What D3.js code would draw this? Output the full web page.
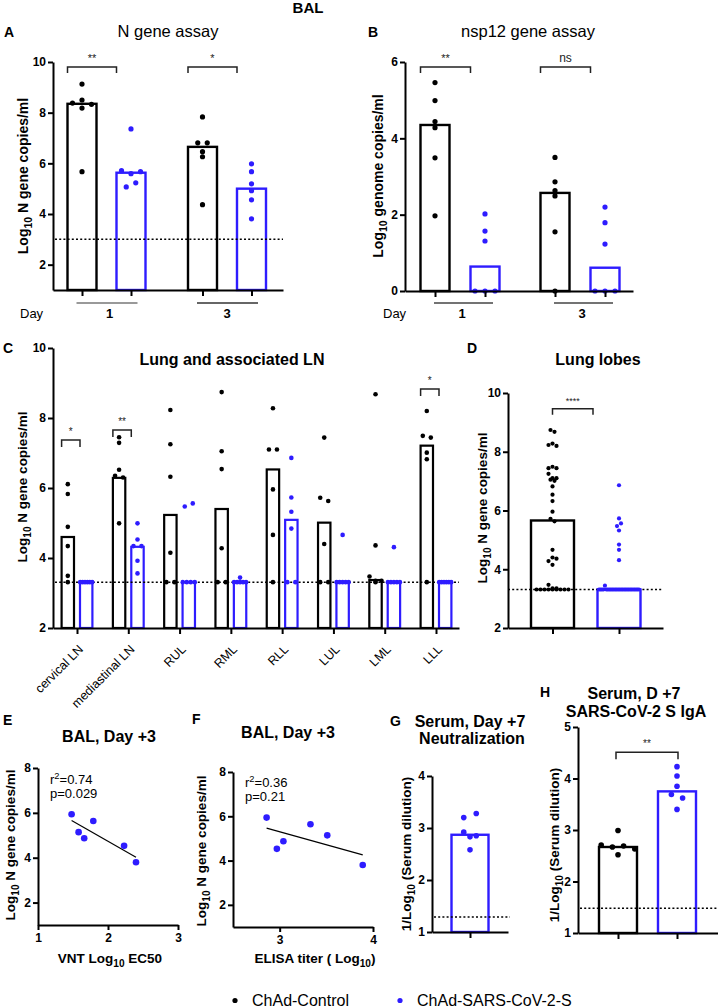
<!DOCTYPE html>
<html><head><meta charset="utf-8">
<script src="https://cdn.jsdelivr.net/npm/d3@7"></script>
<style>
body{margin:0;background:#fff;}
svg{display:block;}
</style></head><body>
<svg id="chart" width="718" height="1008"></svg>
<script>
// ================= DATA =================
const groupNames = ["ChAd-Control", "ChAd-SARS-CoV-2-S"];
const days = ["1", "3"];

// A: BAL, N gene assay (Log10 N gene copies/ml), [day1, day3]
const nGeneControl = [[9.13, 8.38, 8.5, 8.33, 8.18, 5.67], [7.83, 6.81, 6.81, 6.46, 6.26, 4.37]];
const nGeneVaccine = [[7.36, 5.71, 5.59, 5.67, 5.07, 5.23], [5.98, 5.67, 5.19, 4.92, 4.56, 3.81]];
const nGeneMedianControl = [8.35, 6.65];
const nGeneMedianVaccine = [5.63, 5.0];
const nGeneSig = ["**", "*"];
const nGeneLOD = 3.0;

// B: BAL, nsp12 gene assay (Log10 genome copies/ml)
const nspControl = [[5.46, 4.99, 4.44, 4.28, 3.49, 1.97], [3.5, 2.86, 2.63, 2.49, 1.55, 0]];
const nspVaccine = [[2.02, 1.57, 1.31, 0, 0, 0], [2.2, 1.79, 1.23, 0, 0, 0]];
const nspMedianControl = [4.35, 2.57];
const nspMedianVaccine = [0.64, 0.61];
const nspSig = ["**", "ns"];

// C: Lung and associated LN
const tissues = ["cervical LN", "mediastinal LN", "RUL", "RML", "RLL", "LUL", "LML", "LLL"];
const tissueControl = [
  [6.11, 5.83, 4.89, 4.34, 3.49, 3.31],
  [7.45, 7.29, 6.52, 6.35, 6.3, 4.99],
  [8.23, 7.25, 6.32, 4.15, 3.31, 3.31],
  [8.74, 7.05, 6.54, 4.28, 3.31, 3.31],
  [8.28, 7.1, 7.1, 5.96, 4.66, 3.31],
  [7.44, 5.72, 5.63, 4.4, 3.31, 3.31],
  [8.68, 4.36, 3.47, 3.35, 3.35, 3.31],
  [8.2, 7.49, 7.44, 7.01, 6.82, 3.31]
];
const tissueVaccine = [
  [3.31, 3.31, 3.31, 3.31, 3.31, 3.31],
  [4.99, 4.53, 4.34, 4.34, 3.92, 3.56],
  [5.47, 5.56, 3.31, 3.31, 3.31, 3.31],
  [3.44, 3.31, 3.31, 3.31, 3.31, 3.31],
  [6.86, 5.73, 5.32, 4.84, 3.31, 3.31],
  [4.66, 3.31, 3.31, 3.31, 3.31, 3.31],
  [4.31, 3.31, 3.31, 3.31, 3.31, 3.31],
  [3.31, 3.31, 3.31, 3.31, 3.31, 3.31]
];
const tissueMedianControl = [4.6, 6.29, 5.23, 5.4, 6.53, 5.01, 3.37, 7.21];
const tissueMedianVaccine = [3.31, 4.32, 3.31, 3.31, 5.09, 3.31, 3.31, 3.31];
const tissueSig = ["*", "**", "", "", "", "", "", "*"];
const tissueLOD = 3.31;

// D: Lung lobes (pooled lobe values of C)
const lobes = ["RUL", "RML", "RLL", "LUL", "LML", "LLL"];
const lobeMedian = [5.66, 3.31];
const lobeSig = "****";

// E / F: BAL day +3 vs VNT and ELISA
const bal3Copies = [5.94, 5.14, 4.87, 5.64, 4.53, 3.80];
const vntEC50 = [1.48, 1.58, 1.66, 1.79, 2.23, 2.40];
const elisaTiter = [2.86, 3.51, 3.04, 3.33, 2.97, 3.89];
const vntStats = ["0.74", "p=0.029"];
const elisaStats = ["0.36", "p=0.21"];

// G: Serum Day +7 neutralization
const neutVaccine = [2.92, 3.2, 2.83, 2.58, 3.28, 2.85];
const neutMedian = 2.87;
const neutLOD = 1.29;

// H: Serum D+7 SARS-CoV-2 S IgA
const igaControl = [2.99, 2.71, 2.67, 2.69, 2.63, 2.52];
const igaVaccine = [4.23, 4.05, 3.85, 3.69, 3.62, 3.40];
const igaMedian = [2.67, 3.75];
const igaSig = "**";
const igaLOD = 1.48;

// ================= DRAWING =================
const FONT = "'Liberation Sans', Arial, Helvetica, sans-serif";
const BLUE = "#2e1cff";
const groupColor = d3.scaleOrdinal().domain(groupNames).range(["#000000", BLUE]);
const svg = d3.select("#chart").attr("font-family", FONT);
const intFmt = d3.format("d");

function txt(parent, x, y, parts, o = {}) {
  const size = o.size || 12;
  let host = parent;
  if (o.transform) { host = parent.append("g").attr("transform", o.transform); }
  const t = host.append("text").attr("x", x).attr("y", y)
    .attr("font-size", size).attr("font-weight", o.bold ? "bold" : "normal")
    .attr("text-anchor", o.anchor || "start").attr("fill", o.fill || "#000");
  if (typeof parts === "string") parts = [parts];
  let shift = 0;
  parts.forEach(p => {
    if (typeof p === "string") {
      const ts = t.append("tspan").text(p);
      if (shift) { ts.attr("dy", -shift); shift = 0; }
    } else if (p.sub) {
      const d = p.d || size * 0.3;
      t.append("tspan").attr("dy", d).attr("font-size", size * 0.75).text(p.sub);
      shift = d;
    } else if (p.sup) {
      const d = -(p.d || size * 0.38);
      t.append("tspan").attr("dy", d).attr("font-size", size * 0.72).text(p.sup);
      shift = d;
    }
  });
  return t;
}

function styleAxis(a, size = 12) {
  a.attr("font-family", FONT).attr("font-size", size).attr("font-weight", "bold");
  a.select(".domain").attr("stroke", "#000").attr("stroke-width", 2);
  a.selectAll(".tick line").attr("stroke", "#000").attr("stroke-width", 2);
  a.selectAll(".tick text").attr("fill", "#000");
}

function swarm(vals, y, cx, spacing, maxHalf, rowH) {
  const pts = vals.map((v, i) => ({ v, i, py: y(v) }));
  const sorted = pts.slice().sort((a, b) => a.py - b.py || a.i - b.i);
  const rows = []; let cur = null;
  sorted.forEach(p => {
    if (cur && p.py - cur.start <= rowH) cur.items.push(p);
    else { cur = { start: p.py, items: [p] }; rows.push(cur); }
  });
  rows.forEach(r => {
    r.items.sort((a, b) => a.i - b.i);
    const n = r.items.length;
    const s = n > 1 ? Math.min(spacing, 2 * maxHalf / (n - 1)) : 0;
    r.items.forEach((p, k) => { p.px = cx + (k - (n - 1) / 2) * s; });
  });
  return pts;
}

function barPanel(c) {
  const g = svg.append("g");
  const yBase = c.y.range()[0];
  g.selectAll("rect").data(c.items).join("rect")
    .attr("x", d => d.cx - c.barW / 2).attr("width", c.barW)
    .attr("y", d => c.y(d.median)).attr("height", d => yBase - c.y(d.median))
    .attr("fill", "#fff").attr("stroke", d => d.color).attr("stroke-width", c.barStroke || 2.4);
  if (c.lod != null) {
    g.append("line").attr("x1", c.lodRange[0]).attr("x2", c.lodRange[1])
      .attr("y1", c.y(c.lod)).attr("y2", c.y(c.lod))
      .attr("stroke", "#000").attr("stroke-width", 1.5).attr("stroke-dasharray", "2,2.2");
  }
  c.items.forEach(it => {
    const pts = swarm(it.vals, c.y, it.cx, c.spacing, c.maxHalf, c.rowH || 4.5);
    g.append("g").selectAll("circle").data(pts).join("circle")
      .attr("cx", p => p.px).attr("cy", p => p.py).attr("r", c.r).attr("fill", it.color);
  });
  const ya = g.append("g").attr("transform", `translate(${c.xRange[0]},0)`)
    .call(d3.axisLeft(c.y).tickValues(c.yTicks).tickFormat(intFmt).tickSize(5).tickSizeOuter(0).tickPadding(2));
  styleAxis(ya);
  const xId = d3.scaleLinear().domain(c.xRange).range(c.xRange);
  const xa = g.append("g").attr("transform", `translate(0,${yBase})`)
    .call(d3.axisBottom(xId).tickValues(c.xTicks).tickFormat("").tickSize(6).tickSizeOuter(0));
  styleAxis(xa);
  return g;
}

function bracket(g, x0, x1, yTop, label, size = 10, drop = 6) {
  g.append("path").attr("d", `M${x0},${yTop + drop}V${yTop}H${x1}V${yTop + drop}`)
    .attr("fill", "none").attr("stroke", "#222").attr("stroke-width", 1.5);
  txt(g, (x0 + x1) / 2, yTop - 5, label, { size, anchor: "middle", fill: "#222" });
}

function yLabel(x, cy, parts, size = 13.5) {
  txt(svg, 0, 0, parts, { size, bold: true, anchor: "middle", transform: `translate(${x},${cy}) rotate(-90)` });
}

// ---------- global title ----------
txt(svg, 308, 13, "BAL", { size: 15, bold: true, anchor: "middle" });

// ---------- Panel A ----------
{
  const y = d3.scaleLinear().domain([1, 10]).range([290, 62]);
  const dayX = d3.scalePoint().domain(days).range([106.5, 227]);
  const off = d3.scalePoint().domain(groupNames).range([-24.5, 24.5]);
  const items = [];
  days.forEach((d, i) => {
    items.push({ cx: dayX(d) + off(groupNames[0]), vals: nGeneControl[i], median: nGeneMedianControl[i], color: groupColor(groupNames[0]) });
    items.push({ cx: dayX(d) + off(groupNames[1]), vals: nGeneVaccine[i], median: nGeneMedianVaccine[i], color: groupColor(groupNames[1]) });
  });
  const barW = 29;
  const g = barPanel({ y, yTicks: [2, 4, 6, 8, 10], xRange: [53, 283], xTicks: items.map(d => d.cx), items, barW,
    r: 2.6, spacing: 9.5, maxHalf: 14, lod: nGeneLOD, lodRange: [55, 283] });
  days.forEach((d, i) => {
    const x0 = dayX(d) + off(groupNames[0]) - barW / 2, x1 = dayX(d) + off(groupNames[1]) - barW / 2;
    bracket(g, x0, x1, y(9.8), nGeneSig[i], 11);
    g.append("line").attr("x1", dayX(d) - 30).attr("x2", dayX(d) + 31).attr("y1", 303).attr("y2", 303)
      .attr("stroke", i === 0 ? "#777" : "#333").attr("stroke-width", 1.4);
    txt(g, dayX(d) + (i === 0 ? 3 : 0), 318, d, { size: 13, bold: true, anchor: "middle" });
  });
  txt(g, 20, 318, "Day", { size: 13 });
  txt(svg, 4, 37, "A", { size: 14, bold: true });
  txt(svg, 168, 37, "N gene assay", { size: 16.5, anchor: "middle" });
  yLabel(28, 176, ["Log", { sub: "10" }, " N gene copies/ml"], 14);
}

// ---------- Panel B ----------
{
  const y = d3.scaleLinear().domain([0, 6]).range([291, 62]);
  const dayX = d3.scalePoint().domain(days).range([460, 580]);
  const off = d3.scalePoint().domain(groupNames).range([-25, 25]);
  const items = [];
  days.forEach((d, i) => {
    items.push({ cx: dayX(d) + off(groupNames[0]), vals: nspControl[i], median: nspMedianControl[i], color: groupColor(groupNames[0]) });
    items.push({ cx: dayX(d) + off(groupNames[1]), vals: nspVaccine[i], median: nspMedianVaccine[i], color: groupColor(groupNames[1]) });
  });
  const barW = 29;
  const g = barPanel({ y, yTicks: [0, 2, 4, 6], xRange: [405, 633], xTicks: items.map(d => d.cx), items, barW,
    r: 2.6, spacing: 10, maxHalf: 14 });
  days.forEach((d, i) => {
    const x0 = dayX(d) + off(groupNames[0]) - barW / 2, x1 = dayX(d) + off(groupNames[1]) - barW / 2;
    bracket(g, x0, x1, y(5.87), nspSig[i], nspSig[i] === "ns" ? 12 : 11);
    g.append("line").attr("x1", dayX(d) - 26).attr("x2", dayX(d) + 33).attr("y1", 303).attr("y2", 303)
      .attr("stroke", "#444").attr("stroke-width", 1.4);
    txt(g, dayX(d) + 2, 318, d, { size: 13, bold: true, anchor: "middle" });
  });
  txt(g, 383, 318, "Day", { size: 13 });
  txt(svg, 368, 37, "B", { size: 14, bold: true });
  txt(svg, 528, 37, "nsp12 gene assay", { size: 16.5, anchor: "middle" });
  yLabel(383, 176, ["Log", { sub: "10" }, " genome copies/ml"], 14);
}

// ---------- Panel C ----------
{
  const y = d3.scaleLinear().domain([2, 10]).range([628, 348]);
  const tx = d3.scalePoint().domain(tissues).range([77, 436]);
  const off = d3.scalePoint().domain(groupNames).range([-9.2, 9.2]);
  const barW = 12.4;
  const items = [];
  tissues.forEach((t, i) => {
    items.push({ cx: tx(t) + off(groupNames[0]), vals: tissueControl[i], median: tissueMedianControl[i], color: groupColor(groupNames[0]) });
    items.push({ cx: tx(t) + off(groupNames[1]), vals: tissueVaccine[i], median: tissueMedianVaccine[i], color: groupColor(groupNames[1]) });
  });
  const g = barPanel({ y, yTicks: [2, 4, 6, 8, 10], xRange: [53, 459], xTicks: tissues.map(t => tx(t)), items, barW,
    barStroke: 2.2, r: 2.3, spacing: 8, maxHalf: 6, lod: tissueLOD, lodRange: [55, 459] });
  const brLevel = { "cervical LN": 7.37, "mediastinal LN": 7.66, "LLL": 8.83 };
  tissues.forEach((t, i) => {
    if (tissueSig[i]) {
      const x0 = tx(t) + off(groupNames[0]) - barW / 2, x1 = tx(t) + off(groupNames[1]) - barW / 2;
      bracket(g, x0, x1, y(brLevel[t]), tissueSig[i], 10, 7);
    }
  });
  // rotated category labels (45 degrees, text ending at the tick)
  g.append("g").selectAll("g").data(tissues).join("g")
    .attr("transform", t => `translate(${tx(t) + 7},650) rotate(-45)`)
    .append("text").attr("text-anchor", "end").attr("font-size", 12.5).attr("fill", "#000").text(t => t);
  txt(svg, 3, 353, "C", { size: 14, bold: true });
  txt(svg, 232, 365, "Lung and associated LN", { size: 16, bold: true, anchor: "middle" });
  yLabel(27, 487, ["Log", { sub: "10" }, " N gene copies/ml"]);
}

// ---------- Panel D ----------
{
  const y = d3.scaleLinear().domain([2, 10]).range([628, 393]);
  const gx = d3.scalePoint().domain(groupNames).range([552.5, 619]);
  const lobeIdx = lobes.map(l => tissues.indexOf(l));
  const ctrlVals = lobeIdx.flatMap(i => tissueControl[i]);
  const vacVals = lobeIdx.flatMap(i => tissueVaccine[i]);
  const items = [
    { cx: gx(groupNames[0]), vals: ctrlVals, median: lobeMedian[0], color: groupColor(groupNames[0]) },
    { cx: gx(groupNames[1]), vals: vacVals, median: lobeMedian[1], color: groupColor(groupNames[1]) }
  ];
  const g = barPanel({ y, yTicks: [2, 4, 6, 8, 10], xRange: [508, 663], xTicks: items.map(d => d.cx), items, barW: 43,
    r: 2.1, spacing: 4, maxHalf: 20, rowH: 4.5, lod: tissueLOD, lodRange: [508, 663] });
  bracket(g, gx(groupNames[0]), gx(groupNames[1]) - 26, y(9.46), lobeSig, 9);
  txt(svg, 467, 353, "D", { size: 14, bold: true });
  txt(svg, 598, 365, "Lung lobes", { size: 16, bold: true, anchor: "middle" });
  yLabel(487, 508, ["Log", { sub: "10" }, " N gene copies/ml"]);
}

// ---------- Panels E & F ----------
function scatterPanel(c) {
  const g = svg.append("g");
  const xs = c.xs, ys = c.ys;
  const mx = d3.mean(xs), my = d3.mean(ys);
  const sxy = d3.sum(xs, (x, i) => (x - mx) * (ys[i] - my));
  const sxx = d3.sum(xs, x => (x - mx) * (x - mx));
  const b = sxy / sxx, a = my - b * mx;
  const [xmin, xmax] = d3.extent(xs);
  g.append("line").attr("x1", c.x(xmin)).attr("x2", c.x(xmax))
    .attr("y1", c.y(a + b * xmin)).attr("y2", c.y(a + b * xmax))
    .attr("stroke", "#000").attr("stroke-width", 1.2);
  g.append("g").selectAll("circle").data(xs.map((x, i) => [x, ys[i]])).join("circle")
    .attr("cx", d => c.x(d[0])).attr("cy", d => c.y(d[1])).attr("r", 3.3).attr("fill", BLUE);
  const ya = g.append("g").attr("transform", `translate(${c.x.range()[0]},0)`)
    .call(d3.axisLeft(c.y).tickValues(c.yTicks).tickFormat(intFmt).tickSize(5).tickSizeOuter(0).tickPadding(2));
  styleAxis(ya);
  const xa = g.append("g").attr("transform", `translate(0,${c.y.range()[0]})`)
    .call(d3.axisBottom(c.x).tickValues(c.xTicks).tickFormat(intFmt).tickSize(5).tickSizeOuter(0).tickPadding(3));
  styleAxis(xa);
  txt(g, c.statX, c.statY, ["r", { sup: "2" }, "=" + c.stats[0]], { size: 13 });
  txt(g, c.statX, c.statY + 14, c.stats[1], { size: 13 });
  return g;
}
{
  const x = d3.scaleLinear().domain([1, 3]).range([38, 178]);
  const y = d3.scaleLinear().domain([1, 8]).range([925, 768]);
  scatterPanel({ x, y, xs: vntEC50, ys: bal3Copies, xTicks: [1, 2, 3], yTicks: [2, 4, 6, 8], stats: vntStats, statX: 50, statY: 784 });
  txt(svg, 3, 725, "E", { size: 14, bold: true });
  txt(svg, 109, 742, "BAL, Day +3", { size: 16, bold: true, anchor: "middle" });
  txt(svg, 110, 963, ["VNT Log", { sub: "10" }, " EC50"], { size: 13.5, bold: true, anchor: "middle" });
  yLabel(15, 845, ["Log", { sub: "10" }, " N gene copies/ml"]);
}
{
  const x = d3.scaleLinear().domain([2.5, 4]).range([233, 373]);
  const y = d3.scaleLinear().domain([1, 8]).range([927, 772]);
  scatterPanel({ x, y, xs: elisaTiter, ys: bal3Copies, xTicks: [3, 4], yTicks: [2, 4, 6, 8], stats: elisaStats, statX: 245, statY: 787 });
  txt(svg, 192, 724, "F", { size: 14, bold: true });
  txt(svg, 288, 738, "BAL, Day +3", { size: 16, bold: true, anchor: "middle" });
  txt(svg, 315, 963, ["ELISA titer ( Log", { sub: "10" }, ")"], { size: 13.5, bold: true, anchor: "middle" });
  yLabel(206, 851, ["Log", { sub: "10" }, "  N gene copies/ml"]);
}

// ---------- Panel G ----------
{
  const y = d3.scaleLinear().domain([1, 4]).range([932, 776]);
  const gx = d3.scalePoint().domain([groupNames[1]]).range([470, 470]);
  const items = [{ cx: gx(groupNames[1]), vals: neutVaccine, median: neutMedian, color: groupColor(groupNames[1]) }];
  barPanel({ y, yTicks: [1, 2, 3, 4], xRange: [432, 508], xTicks: items.map(d => d.cx), items, barW: 37,
    r: 2.8, spacing: 12.5, maxHalf: 18, lod: neutLOD, lodRange: [434, 510] });
  txt(svg, 390, 726, "G", { size: 14, bold: true });
  txt(svg, 470, 727, "Serum, Day +7", { size: 16, bold: true, anchor: "middle" });
  txt(svg, 472, 744, "Neutralization", { size: 16, bold: true, anchor: "middle" });
  yLabel(411, 854, ["1/Log", { sub: "10" }, " (Serum dilution)"]);
}

// ---------- Panel H ----------
{
  const y = d3.scaleLinear().domain([1, 5]).range([933, 727]);
  const gx = d3.scalePoint().domain(groupNames).range([618, 677]);
  const items = [
    { cx: gx(groupNames[0]), vals: igaControl, median: igaMedian[0], color: groupColor(groupNames[0]) },
    { cx: gx(groupNames[1]), vals: igaVaccine, median: igaMedian[1], color: groupColor(groupNames[1]) }
  ];
  const g = barPanel({ y, yTicks: [1, 2, 3, 4, 5], xRange: [578, 718], xTicks: items.map(d => d.cx), items, barW: 38,
    r: 2.8, spacing: 11.2, maxHalf: 18, lod: igaLOD, lodRange: [580, 718] });
  bracket(g, gx(groupNames[0]) - 2, gx(groupNames[1]) + 1, y(4.51), igaSig, 10, 7);
  txt(svg, 540, 697, "H", { size: 14, bold: true });
  txt(svg, 634, 699, "Serum, D +7", { size: 16, bold: true, anchor: "middle" });
  txt(svg, 636, 717, "SARS-CoV-2 S IgA", { size: 16, bold: true, anchor: "middle" });
  yLabel(559, 845, ["1/Log", { sub: "10" }, " (Serum dilution)"]);
}

// ---------- Legend ----------
{
  const lx = d3.scalePoint().domain(groupNames).range([235, 400]);
  const lg = svg.append("g");
  groupNames.forEach(n => {
    lg.append("circle").attr("cx", lx(n)).attr("cy", 1000.5).attr("r", 2.6).attr("fill", groupColor(n));
    txt(lg, lx(n) + 17, 1006, n, { size: 16 });
  });
}
</script>
</body></html>
